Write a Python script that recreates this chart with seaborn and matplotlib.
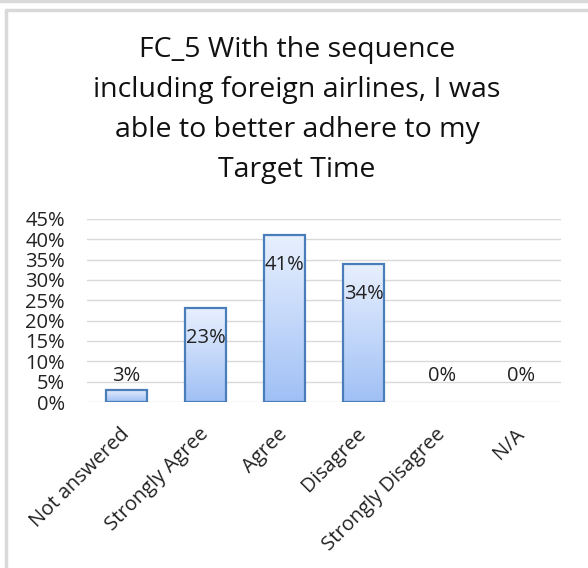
import matplotlib
matplotlib.use("Agg")
import matplotlib.pyplot as plt
import numpy as np
import pandas as pd
import seaborn as sns
from matplotlib.colors import LinearSegmentedColormap
from matplotlib.lines import Line2D

categories = ["Not answered", "Strongly Agree", "Agree", "Disagree",
              "Strongly Disagree", "N/A"]
shares = [3, 23, 41, 34, 0, 0]
yticks = [0, 5, 10, 15, 20, 25, 30, 35, 40, 45]
title = "FC_5 With the sequence\nincluding foreign airlines, I was\nable to better adhere to my\nTarget Time"

df = pd.DataFrame({"category": categories, "share": shares})

sns.set_theme(style="white")
plt.rcParams["font.family"] = ["Open Sans", "DejaVu Sans"]

fig = plt.figure(figsize=(5.88, 5.68), dpi=100)
ax = fig.add_axes([87 / 588, 1 - 402 / 568, 474 / 588, 183 / 568])

sns.barplot(data=df, x="category", y="share", ax=ax, width=0.51,
            color="#c5d9fb", edgecolor="#4a7ebb", linewidth=1.6, zorder=3)

ax.set_ylim(0, 45)
ax.set_xlim(-0.5, len(categories) - 0.5)
ax.set_yticks(yticks)
ax.set_yticklabels([f"{t}%" for t in yticks], fontsize=14.5, color="#222222")
ax.set_xticks(range(len(categories)))
ax.set_xticklabels(categories, rotation=45, ha="right", va="center",
                   rotation_mode="anchor", fontsize=14.5, color="#222222")
ax.tick_params(axis="y", length=0, pad=15.8)
ax.tick_params(axis="x", length=0, pad=21)
ax.set_xlabel("")
ax.set_ylabel("")
for s in ax.spines.values():
    s.set_visible(False)
ax.yaxis.grid(True, color="#d9d9d9", linewidth=1.0, zorder=0)
ax.set_axisbelow(True)

# vertical gradient fill for each bar, clipped to the bar outline
grad = LinearSegmentedColormap.from_list("barfill", ["#a0c0f5", "#e8f0fe"])
gimg = np.linspace(0, 1, 256).reshape(-1, 1)
for p in ax.patches:
    x0, y0 = p.get_x(), p.get_y()
    w, h = p.get_width(), p.get_height()
    if h <= 0:
        p.set_visible(False)
        continue
    p.set_facecolor("none")
    im = ax.imshow(gimg, cmap=grad, origin="lower", aspect="auto",
                   extent=[x0, x0 + w, y0, y0 + h], zorder=2.5)
    im.set_clip_path(p)

ax.set_xlim(-0.5, len(categories) - 0.5)
ax.set_ylim(0, 45)

# data labels
for i, v in enumerate(shares):
    if v >= 10:
        dy = -21.5
    elif v > 0:
        dy = 10
    else:
        dy = 18.5
    ax.annotate(f"{v}%", (i, v), xytext=(0, dy), textcoords="offset points",
                ha="center", va="center", fontsize=14.5, color="#222222", zorder=5)

fig.text(297 / 588, 1 - 110 / 568, title, ha="center", va="center",
         fontsize=20.5, color="#111111", linespacing=1.56)

# outer frame
fig.add_artist(Line2D([0, 1], [1 - 1 / 568, 1 - 1 / 568], transform=fig.transFigure,
                      color="#d9d9d9", linewidth=2.5))
fig.add_artist(Line2D([6 / 588, 1], [1 - 10 / 568, 1 - 10 / 568], transform=fig.transFigure,
                      color="#d9d9d9", linewidth=2.5))
fig.add_artist(Line2D([6 / 588, 6 / 588], [0, 1 - 10 / 568], transform=fig.transFigure,
                      color="#d9d9d9", linewidth=2.5))

fig.savefig("out.png", dpi=100, facecolor="white")
